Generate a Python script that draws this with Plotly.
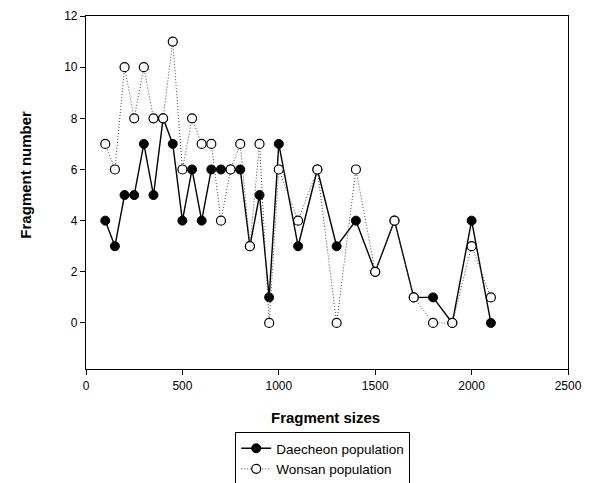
import plotly.graph_objects as go

sizes = [100, 150, 200, 250, 300, 350, 400, 450, 500, 550, 600, 650, 700, 750, 800,
         850, 900, 950, 1000, 1100, 1200, 1300, 1400, 1500, 1600, 1700, 1800, 1900, 2000, 2100]
daecheon = [4, 3, 5, 5, 7, 5, 8, 7, 4, 6, 4, 6, 6, 6, 6,
            3, 5, 1, 7, 3, 6, 3, 4, 2, 4, 1, 1, 0, 4, 0]
wonsan = [7, 6, 10, 8, 10, 8, 8, 11, 6, 8, 7, 7, 4, 6, 7,
          3, 7, 0, 6, 4, 6, 0, 6, 2, 4, 1, 0, 0, 3, 1]
x_ticks = [0, 500, 1000, 1500, 2000, 2500]
y_ticks = [0, 2, 4, 6, 8, 10, 12]

W, H = 594, 483
L, R, T, B = 85.5, 568.5, 16, 369

fig = go.Figure()
fig.add_trace(go.Scatter(
    x=sizes, y=daecheon, name="Daecheon population", mode="lines+markers",
    line=dict(color="black", width=1.4),
    marker=dict(symbol="circle", size=9, color="black", line=dict(color="black", width=1)),
))
fig.add_trace(go.Scatter(
    x=sizes, y=wonsan, name="Wonsan population", mode="lines+markers",
    line=dict(color="#444444", width=1, dash="1px,2px"),
    marker=dict(symbol="circle", size=9, color="white", line=dict(color="black", width=1.2)),
))

font = "Liberation Sans, Arial, sans-serif"
fig.update_layout(
    width=W, height=H,
    margin=dict(l=L, r=W - R, t=T, b=H - B, pad=0, autoexpand=False),
    paper_bgcolor="white", plot_bgcolor="white",
    font=dict(family=font, size=12, color="black"),
    showlegend=True,
    legend=dict(
        x=(235 - L) / (R - L), y=(B - 432) / (B - T), xanchor="left", yanchor="top",
        bordercolor="black", borderwidth=1, bgcolor="white",
        font=dict(family=font, size=13.5, color="black"),
        tracegroupgap=0, itemwidth=30,
    ),
    xaxis=dict(
        range=[0, 2500], tickvals=x_ticks, ticks="outside", ticklen=5, tickwidth=1,
        tickcolor="black", showline=True, linecolor="black", linewidth=1.2, mirror=True,
        showgrid=False, zeroline=False, tickfont=dict(size=12),
    ),
    yaxis=dict(
        range=[-1.8, 12], tickvals=y_ticks, ticks="outside", ticklen=5, tickwidth=1,
        tickcolor="black", showline=True, linecolor="black", linewidth=1.2, mirror=True,
        showgrid=False, zeroline=False, tickfont=dict(size=12),
    ),
    annotations=[
        dict(text="<b>Fragment sizes</b>", xref="paper", yref="paper",
             x=(325 - L) / (R - L), y=(B - 418) / (B - T), xanchor="center", yanchor="middle",
             showarrow=False, font=dict(family=font, size=15, color="black")),
        dict(text="<b>Fragment number</b>", xref="paper", yref="paper",
             x=(25 - L) / (R - L), y=(B - 175) / (B - T), xanchor="center", yanchor="middle",
             textangle=-90, showarrow=False, font=dict(family=font, size=15, color="black")),
    ],
)

fig.write_html("out.html")
